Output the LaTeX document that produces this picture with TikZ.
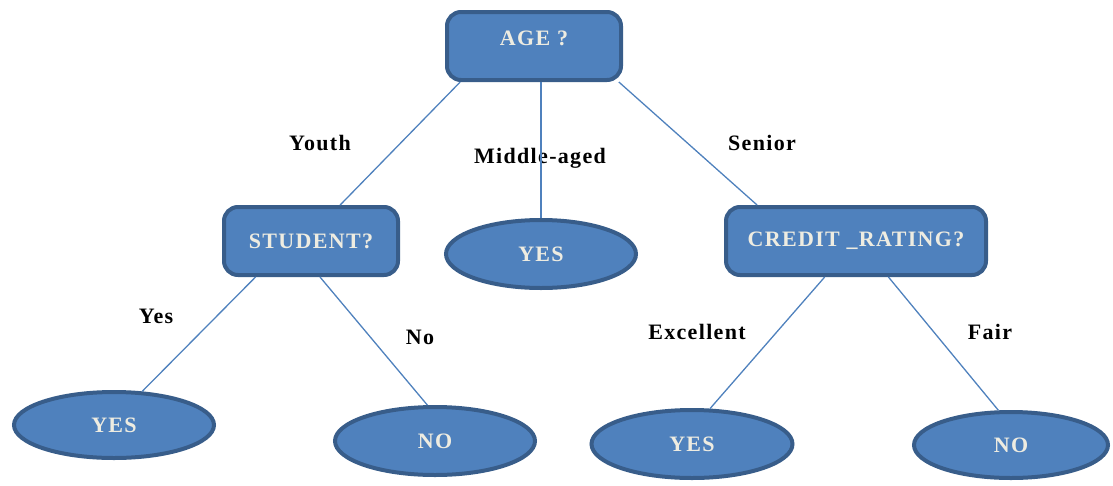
\documentclass[tikz,border=0pt]{standalone}
\usepackage{fontspec}
\setmainfont{Liberation Serif}
\newfontfamily\spacedfont[LetterSpace=6]{Liberation Serif}
\usetikzlibrary{shapes.geometric}
\definecolor{nodefill}{HTML}{4F81BD}
\definecolor{nodeline}{HTML}{385D8A}
\definecolor{nodetext}{HTML}{EEECE1}

\begin{document}
\begin{tikzpicture}[x=1pt, y=-1pt,
    test/.style={rectangle, rounded corners=14pt, draw=nodeline, fill=nodefill, line width=4pt,
        minimum width=174pt, minimum height=68pt, inner sep=0pt, text=nodetext,
        font=\spacedfont\fontsize{22}{24}\selectfont\bfseries},
    leaf/.style={ellipse, draw=nodeline, fill=nodefill, line width=4pt,
        minimum width=196pt, minimum height=66pt, inner sep=0pt, text=nodetext,
        font=\spacedfont\fontsize{22}{24}\selectfont\bfseries},
    branch/.style={draw=nodefill, line width=1.3pt},
    answer/.style={inner sep=0pt, font=\spacedfont\fontsize{22}{24}\selectfont\bfseries}]
        \useasboundingbox (0, 0) rectangle (1113, 485);

        % Nodes
        \node[test, text depth=16pt] (age) at (534, 46) {AGE ?};
        \node[test] (student) at (311, 241) {STUDENT?};
        \node[test, minimum width=260pt] (credit) at (856, 241) {CREDIT \_RATING?};
        \node[leaf, minimum width=190pt, minimum height=68pt] (yesmid) at (541, 254) {YES};
        \node[leaf, minimum width=200pt] (yesleft) at (114, 425) {YES};
        \node[leaf, minimum width=200pt, minimum height=68pt] (noleft) at (435, 441) {NO};
        \node[leaf, minimum width=201pt, minimum height=68pt] (yesright) at (692, 444) {YES};
        \node[leaf, minimum width=194pt] (noright) at (1011, 445) {NO};

        % Branch labels
        \node[answer] (youth) at (320, 143) {Youth};
        \node[answer] (middle) at (540, 158) {Middle-aged};
        \node[answer] (senior) at (762, 143) {Senior};
        \node[answer] (yes) at (156, 316) {Yes};
        \node[answer] (no) at (420, 337) {No};
        \node[answer] (excellent) at (697, 332) {Excellent};
        \node[answer] (fair) at (990, 332) {Fair};

        % Edges
        \draw[branch] (age.206) -- (student.51);
        \draw[branch] (yesmid.north |- age.south) -- (yesmid.north);
        \draw[branch] (age.-23) -- (credit.160);
        \draw[branch] (student.213) -- (yesleft.50);
        \draw[branch] (student.-76) -- (noleft.102);
        \draw[branch] (credit.229) -- (yesright.63);
        \draw[branch] (credit.-48) -- (noright.110);
    \end{tikzpicture}
\end{document}
